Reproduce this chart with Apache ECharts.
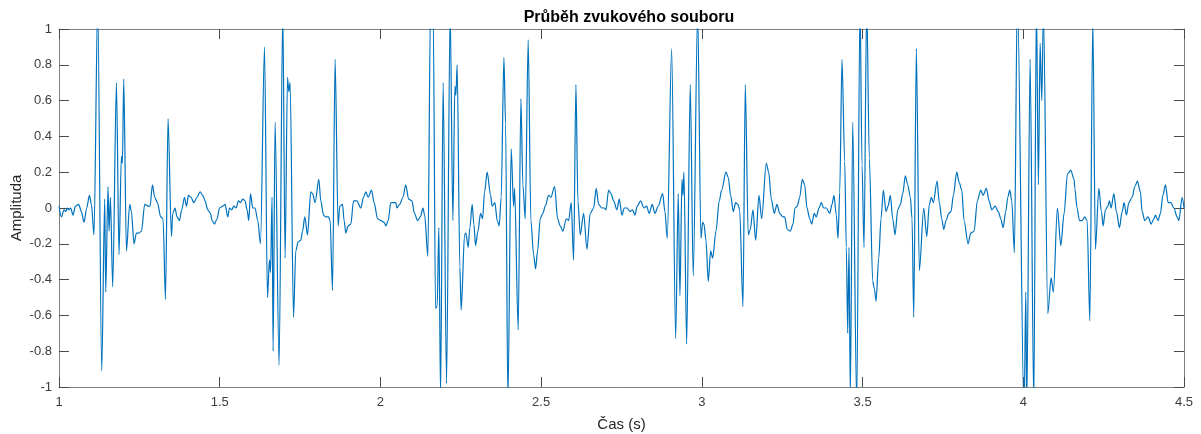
<!DOCTYPE html>
<html>
<head>
<meta charset="utf-8">
<script src="https://cdn.jsdelivr.net/npm/echarts@6/dist/echarts.min.js"></script>
<style>
  html, body { margin: 0; padding: 0; background: #ffffff; }
  #chart { width: 1201px; height: 434px; }
</style>
</head>
<body>
<div id="chart"></div>
<script>
// Time of each sample (s)
const casS = [
  1.0000, 1.0075, 1.0156, 1.0209, 1.0261, 1.0311, 1.0364, 1.0436, 1.0510, 1.0613,
  1.0697, 1.0778, 1.0862, 1.0946, 1.1008, 1.1089, 1.1204, 1.1329, 1.1422, 1.1453,
  1.1525, 1.1556, 1.1600, 1.1671, 1.1787, 1.1867, 1.1942, 1.1973, 1.2014, 1.2098,
  1.2200, 1.2253, 1.2334, 1.2409, 1.2481, 1.2565, 1.2667, 1.2770, 1.2832, 1.2907,
  1.2979, 1.3063, 1.3165, 1.3237, 1.3312, 1.3393, 1.3498, 1.3539, 1.3610, 1.3673,
  1.3747, 1.3819, 1.3903, 1.3965, 1.4027, 1.4108, 1.4192, 1.4295, 1.4389, 1.4472,
  1.4544, 1.4628, 1.4712, 1.4762, 1.4837, 1.4918, 1.4992, 1.5095, 1.5167, 1.5251,
  1.5303, 1.5375, 1.5437, 1.5509, 1.5584, 1.5646, 1.5718, 1.5789, 1.5851, 1.5904,
  1.5957, 1.6029, 1.6100, 1.6184, 1.6268, 1.6393, 1.6486, 1.6548, 1.6580, 1.6629,
  1.6661, 1.6723, 1.6847, 1.6962, 1.7034, 1.7109, 1.7149, 1.7190, 1.7296, 1.7367,
  1.7439, 1.7523, 1.7576, 1.7647, 1.7731, 1.7834, 1.7887, 1.7968, 1.8083, 1.8145,
  1.8229, 1.8301, 1.8385, 1.8435, 1.8509, 1.8590, 1.8684, 1.8736, 1.8820, 1.8870,
  1.8923, 1.8995, 1.9079, 1.9163, 1.9266, 1.9390, 1.9474, 1.9546, 1.9617, 1.9723,
  1.9804, 1.9910, 2.0013, 2.0115, 2.0168, 2.0240, 2.0324, 2.0408, 2.0479, 2.0515,
  2.0598, 2.0701, 2.0785, 2.0878, 2.0981, 2.1056, 2.1159, 2.1243, 2.1323, 2.1376,
  2.1476, 2.1560, 2.1641, 2.1715, 2.1765, 2.1818, 2.1871, 2.1951, 2.2057, 2.2169,
  2.2254, 2.2316, 2.2347, 2.2387, 2.2471, 2.2512, 2.2618, 2.2658, 2.2730, 2.2783,
  2.2854, 2.2907, 2.2960, 2.3032, 2.3116, 2.3178, 2.3240, 2.3321, 2.3427, 2.3477,
  2.3561, 2.3633, 2.3695, 2.3757, 2.3841, 2.3894, 2.3965, 2.4068, 2.4143, 2.4174,
  2.4286, 2.4370, 2.4432, 2.4505, 2.4597, 2.4681, 2.4765, 2.4827, 2.4889, 2.4970,
  2.5054, 2.5126, 2.5232, 2.5304, 2.5419, 2.5513, 2.5593, 2.5677, 2.5780, 2.5855,
  2.5935, 2.6010, 2.6082, 2.6144, 2.6216, 2.6322, 2.6425, 2.6527, 2.6633, 2.6714,
  2.6789, 2.6891, 2.6975, 2.7016, 2.7100, 2.7172, 2.7256, 2.7358, 2.7430, 2.7514,
  2.7585, 2.7678, 2.7762, 2.7846, 2.7918, 2.7989, 2.8095, 2.8198, 2.8282, 2.8363,
  2.8456, 2.8540, 2.8643, 2.8780, 2.8851, 2.8923, 2.9060, 2.9185, 2.9265, 2.9318,
  2.9381, 2.9412, 2.9443, 2.9527, 2.9639, 2.9732, 2.9869, 2.9972, 3.0025, 3.0065,
  3.0128, 3.0199, 3.0274, 3.0336, 3.0439, 3.0541, 3.0616, 3.0750, 3.0822, 3.0896,
  3.0977, 3.1052, 3.1123, 3.1176, 3.1279, 3.1351, 3.1444, 3.1506, 3.1590, 3.1674,
  3.1777, 3.1861, 3.2004, 3.2079, 3.2160, 3.2253, 3.2337, 3.2421, 3.2524, 3.2577,
  3.2658, 3.2751, 3.2835, 3.2898, 3.2969, 3.3044, 3.3125, 3.3199, 3.3271, 3.3355,
  3.3417, 3.3498, 3.3560, 3.3645, 3.3716, 3.3791, 3.3872, 3.3978, 3.4049, 3.4111,
  3.4183, 3.4236, 3.4289, 3.4360, 3.4444, 3.4494, 3.4538, 3.4578, 3.4619, 3.4693,
  3.4818, 3.4921, 3.4983, 3.5045, 3.5129, 3.5210, 3.5316, 3.5366, 3.5419, 3.5503,
  3.5574, 3.5646, 3.5730, 3.5792, 3.5864, 3.5938, 3.6010, 3.6094, 3.6175, 3.6250,
  3.6331, 3.6405, 3.6486, 3.6539, 3.6592, 3.6673, 3.6766, 3.6903, 3.6997, 3.7077,
  3.7140, 3.7202, 3.7317, 3.7389, 3.7463, 3.7526, 3.7597, 3.7681, 3.7753, 3.7824,
  3.7930, 3.8011, 3.8086, 3.8157, 3.8282, 3.8366, 3.8469, 3.8571, 3.8677, 3.8749,
  3.8852, 3.8936, 3.9020, 3.9122, 3.9225, 3.9300, 3.9371, 3.9455, 3.9518, 3.9580,
  3.9642, 3.9723, 3.9816, 4.0025, 4.0078, 4.0109, 4.0212, 4.0327, 4.0408, 4.0470,
  4.0523, 4.0576, 4.0626, 4.0762, 4.0865, 4.0937, 4.1061, 4.1167, 4.1270, 4.1373,
  4.1478, 4.1581, 4.1603, 4.1674, 4.1746, 4.1830, 4.1914, 4.1986, 4.2070, 4.2163,
  4.2244, 4.2350, 4.2431, 4.2484, 4.2555, 4.2630, 4.2680, 4.2733, 4.2817, 4.2898,
  4.2991, 4.3075, 4.3137, 4.3209, 4.3283, 4.3386, 4.3470, 4.3551, 4.3644, 4.3697,
  4.3781, 4.3884, 4.3978, 4.4062, 4.4111, 4.4195, 4.4267, 4.4342, 4.4423, 4.4507,
  4.4591, 4.4684, 4.4787, 4.4840, 4.4942, 4.5000
];

// Amplitude of each sample (peaks beyond ±1 are cut off by the axes)
const amplituda = [
   0.01, -0.05, -0.01, -0.02,  0.00, -0.01,  0.00, -0.04,  0.01,  0.02,
  -0.02, -0.08,  0.00,  0.07,  0.02, -0.15,  1.15, -0.91,  0.05, -0.47,
   0.12, -0.13,  0.06, -0.44,  0.70, -0.26,  0.29,  0.25,  0.72, -0.24,
   0.02, -0.02, -0.20, -0.14, -0.14, -0.13,  0.02,  0.01,  0.01,  0.13,
   0.06,  0.03, -0.05, -0.06, -0.51,  0.50, -0.16, -0.03,  0.00, -0.05,
  -0.07, -0.01,  0.06,  0.01,  0.07,  0.06,  0.03,  0.06,  0.09,  0.07,
   0.04, -0.01, -0.03, -0.07, -0.09, -0.06,  0.00,  0.01,  0.02, -0.05,
   0.00, -0.01,  0.01,  0.00,  0.04,  0.03,  0.05,  0.04, -0.01, -0.07,
   0.08,  0.00,  0.00, -0.07, -0.20,  0.90, -0.50, -0.29, -0.36,  0.06,
  -0.80,  0.48, -0.88,  1.10, -0.28,  0.73,  0.65,  0.70, -0.61, -0.24,
  -0.19, -0.18, -0.13, -0.05, -0.15,  0.09,  0.08,  0.03,  0.16,  0.04,
  -0.04, -0.05, -0.05, -0.07, -0.46,  0.83, -0.10,  0.01,  0.02, -0.07,
  -0.14, -0.10, -0.09,  0.04,  0.04,  0.00,  0.06,  0.09,  0.06,  0.10,
   0.03, -0.06, -0.07, -0.08, -0.10, -0.07,  0.03,  0.03,  0.03,  0.00,
   0.02,  0.06,  0.13,  0.05,  0.04, -0.03, -0.07, -0.05,  0.00, -0.04,
  -0.27,  1.15,  1.10, -0.56, -0.55, -0.11, -1.05,  0.70, -0.98,  1.10,
  -0.07,  0.68,  0.63,  0.80, -0.33, -0.57, -0.15, -0.14, -0.22, -0.11,
   0.02, -0.09, -0.21, -0.13, -0.03, -0.06,  0.09,  0.20,  0.07,  0.01,
   0.03, -0.07, -0.10,  0.06,  0.84,  0.47, -1.08,  0.33,  0.01,  0.11,
  -0.68,  0.61,  0.13, -0.06,  0.94, -0.07, -0.26, -0.34, -0.24, -0.06,
  -0.03,  0.01,  0.07,  0.06,  0.12, -0.06, -0.10, -0.13, -0.06, -0.07,
   0.03, -0.29,  0.69,  0.04, -0.15, -0.03, -0.23, -0.03,  0.00,  0.11,
   0.02,  0.00,  0.00, -0.01,  0.10,  0.08,  0.04, -0.01,  0.05, -0.04,
   0.00,  0.00, -0.02, -0.01, -0.04,  0.01,  0.04,  0.00,  0.01, -0.03,
   0.02, -0.03,  0.01,  0.08, -0.02, -0.17,  0.89, -0.73,  0.08, -0.49,
   0.16,  0.07,  0.20, -0.76,  0.69, -0.38,  1.10, -0.17, -0.08, -0.09,
  -0.18, -0.41, -0.24, -0.28, -0.13,  0.04,  0.10,  0.20,  0.17,  0.07,
  -0.02,  0.03,  0.02, -0.01, -0.55,  0.69, -0.15, -0.12, -0.01, -0.18,
   0.07, -0.06,  0.25,  0.20,  0.05, -0.03,  0.02, -0.03, -0.05, -0.05,
  -0.12, -0.13, -0.09,  0.00,  0.01,  0.06,  0.16,  0.13,  0.00, -0.06,
  -0.09, -0.03, -0.05,  0.00,  0.03,  0.00,  0.00, -0.03,  0.02,  0.07,
  -0.04, -0.17,  0.09,  0.83,  0.26, -0.22, -0.70, -0.22, -1.05,  0.48,
  -1.10,  1.15,  0.24, -0.22,  1.15,  0.28, -0.41, -0.45, -0.52, -0.28,
  -0.06,  0.10, -0.02,  0.01,  0.07, -0.06, -0.15, -0.01,  0.02,  0.08,
   0.18,  0.13,  0.06, -0.06, -0.61,  0.89, -0.35,  0.00, -0.16,  0.02,
   0.06,  0.03,  0.15,  0.03, -0.06, -0.12, -0.07, -0.03, -0.02,  0.07,
   0.20,  0.14,  0.10, -0.07, -0.20, -0.14, -0.13,  0.04,  0.10,  0.07,
   0.11,  0.04, -0.01,  0.01, -0.02, -0.06, -0.11, -0.02,  0.06,  0.10,
   0.04, -0.25,  1.20, -1.15, -0.47, -1.10,  0.83, -1.10,  1.15,  0.13,
   0.92,  0.60,  1.10, -0.59, -0.39, -0.47,  0.00, -0.21, -0.03,  0.19,
   0.21,  0.16,  0.11,  0.00, -0.07, -0.07, -0.05, -0.07, -0.63,  1.05,
  -0.23,  0.11, -0.02, -0.10, -0.01,  0.01,  0.04,  0.00,  0.08, -0.02,
  -0.11, -0.02,  0.03, -0.04,  0.03,  0.06,  0.12,  0.15,  0.09, -0.02,
  -0.07, -0.05, -0.09, -0.06, -0.04, -0.07, -0.03,  0.07,  0.13,  0.03,
   0.03,  0.00, -0.05, -0.07,  0.06,  0.00
];

// Axis ranges and tick spacing
const casRozsah = [1, 4.5];
const casKrok = 0.5;
const ampRozsah = [-1, 1];
const ampKrok = 0.2;

const pismo = '"Liberation Sans", Arial, Helvetica, sans-serif';
const barvaOs = '#808080';
const barvaTick = '#4a4a4a';
const barvaText = '#3c3c3c';

function osaX(hlavni) {
  return {
    type: 'value',
    min: casRozsah[0],
    max: casRozsah[1],
    interval: casKrok,
    position: hlavni ? 'bottom' : 'top',
    axisLine: { show: true, onZero: false, lineStyle: { color: barvaOs, width: 1 } },
    axisTick: { show: true, inside: true, length: 10, lineStyle: { color: barvaTick, width: 1 } },
    axisLabel: {
      show: hlavni, color: barvaText, fontSize: 13, fontFamily: pismo, margin: 9,
      formatter: v => String(Math.round(v * 10) / 10)
    },
    splitLine: { show: false },
    name: hlavni ? 'Čas (s)' : '',
    nameLocation: 'middle',
    nameGap: 30,
    nameMoveOverlap: false,
    nameTextStyle: { fontSize: 15, color: '#262626', fontFamily: pismo }
  };
}

function osaY(hlavni) {
  return {
    type: 'value',
    min: ampRozsah[0],
    max: ampRozsah[1],
    interval: ampKrok,
    position: hlavni ? 'left' : 'right',
    axisLine: { show: true, onZero: false, lineStyle: { color: barvaOs, width: 1 } },
    axisTick: { show: true, inside: true, length: 10, lineStyle: { color: barvaTick, width: 1 } },
    axisLabel: {
      show: hlavni, color: barvaText, fontSize: 13, fontFamily: pismo, margin: 7,
      formatter: v => String(Math.round(v * 10) / 10)
    },
    splitLine: { show: false },
    name: hlavni ? 'Amplituda' : '',
    nameLocation: 'middle',
    nameGap: 35,
    nameMoveOverlap: false,
    nameTextStyle: { fontSize: 15, color: '#262626', fontFamily: pismo }
  };
}

const chart = echarts.init(document.getElementById('chart'), null, { renderer: 'canvas' });
chart.setOption({
  animation: false,
  backgroundColor: '#ffffff',
  title: {
    text: 'Průběh zvukového souboru',
    left: 624,
    top: 5,
    textAlign: 'center',
    textStyle: { fontSize: 16, fontWeight: 'bold', color: '#000000', fontFamily: pismo }
  },
  grid: { left: 59, right: 17, top: 29, bottom: 47, containLabel: false, outerBoundsMode: 'none' },
  xAxis: [osaX(true), osaX(false)],
  yAxis: [osaY(true), osaY(false)],
  series: [{
    type: 'line',
    xAxisIndex: 0,
    yAxisIndex: 0,
    data: casS.map((t, i) => [t, amplituda[i]]),
    showSymbol: false,
    symbol: 'none',
    clip: true,
    smooth: 0.3,
    smoothMonotone: 'x',
    lineStyle: { color: '#0072BD', width: 1.2 }
  }]
});
</script>
</body>
</html>
